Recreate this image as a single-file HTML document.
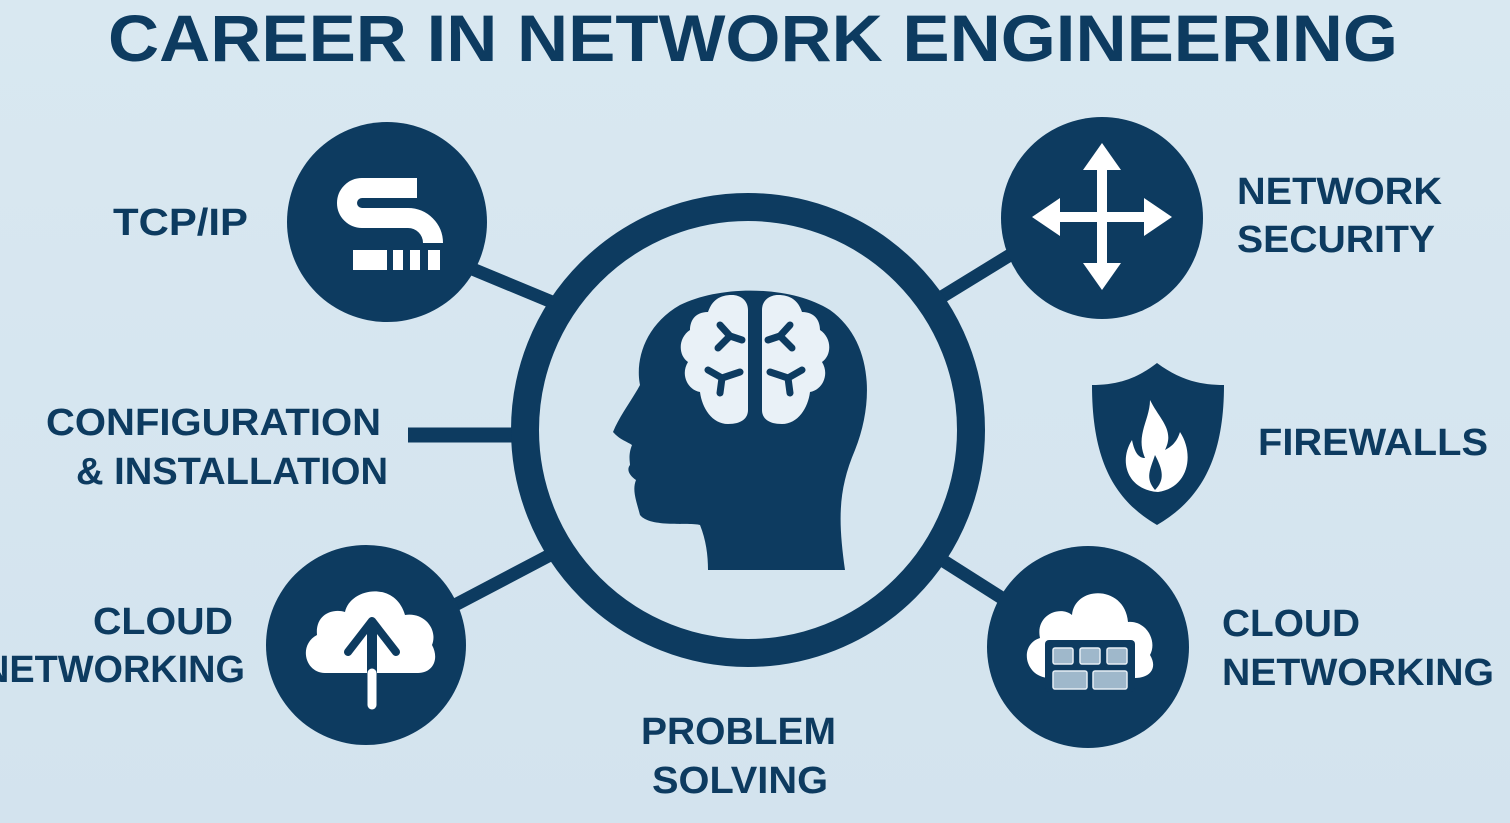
<!DOCTYPE html>
<html><head><meta charset="utf-8"><style>
html,body{margin:0;padding:0;background:#d7e6f0;}
svg{display:block;}
text{font-family:"Liberation Sans",sans-serif;font-weight:bold;fill:#0d3b60;}
</style></head><body>
<svg width="1510" height="823" viewBox="0 0 1510 823" xmlns="http://www.w3.org/2000/svg">
<defs><linearGradient id="bg" x1="0" y1="0" x2="0" y2="1"><stop offset="0" stop-color="#d9e8f1"/><stop offset="1" stop-color="#d3e3ee"/></linearGradient></defs>
<rect width="1510" height="823" fill="url(#bg)"/>
<text x="108" y="61" font-size="66" textLength="1290" lengthAdjust="spacingAndGlyphs">CAREER IN NETWORK ENGINEERING</text>
<g stroke="#0d3b60" stroke-width="13">
<line x1="470" y1="268" x2="552" y2="302"/>
<line x1="940" y1="298" x2="1015" y2="252"/>
<line x1="408" y1="435" x2="515" y2="435" stroke-width="15"/>
<line x1="455" y1="605" x2="552" y2="554"/>
<line x1="942" y1="560" x2="1005" y2="600"/>
</g>
<circle cx="748" cy="430" r="223" fill="#d5e5ef" stroke="#0d3b60" stroke-width="28"/>
<circle cx="387" cy="222" r="100" fill="#0d3b60"/>
<circle cx="1102" cy="218" r="101" fill="#0d3b60"/>
<circle cx="366" cy="645" r="100" fill="#0d3b60"/>
<circle cx="1088" cy="647" r="101" fill="#0d3b60"/>
<!-- TCP icon -->
<path d="M417 188 H362 A15 15 0 0 0 362 218 H408 A25 25 0 0 1 433 243" fill="none" stroke="#fff" stroke-width="20"/>
<rect x="353" y="250" width="34" height="20" fill="#fff"/>
<rect x="393" y="250" width="10" height="20" fill="#fff"/>
<rect x="410" y="250" width="10" height="20" fill="#fff"/>
<rect x="428" y="250" width="12" height="20" fill="#fff"/>
<!-- arrows -->
<g fill="#fff">
<rect x="1097" y="160" width="10" height="115"/>
<rect x="1047" y="212" width="110" height="10"/>
<polygon points="1102,143 1083,170 1121,170"/>
<polygon points="1102,290 1083,263 1121,263"/>
<polygon points="1032,217 1060,198 1060,236"/>
<polygon points="1172,217 1144,198 1144,236"/>
</g>
<!-- head -->
<path d="M708 570 H845 C838 520 838 490 855 450 C875 400 872 340 830 310 C790 285 720 285 680 305 C645 325 635 360 640 385 C632 400 620 415 613 432 C620 440 628 442 632 445 C628 455 630 462 630 465 C626 470 630 476 636 480 C632 490 636 500 640 515 C650 528 690 522 700 525 C706 540 708 555 708 570 Z" fill="#0d3b60"/>
<g fill="#e9f1f7">
<path d="M748 310 C748 300 740 295 732 295 C720 295 712 300 708 312 C694 312 690 322 690 330 C678 338 678 355 688 362 C680 375 688 390 700 392 C702 408 712 424 728 424 C742 424 748 418 748 410 Z"/>
<path d="M762 310 C762 300 770 295 778 295 C790 295 798 300 802 312 C816 312 820 322 820 330 C832 338 832 355 822 362 C830 375 822 390 810 392 C808 408 798 424 782 424 C768 424 762 418 762 410 Z"/>
</g>
<g stroke="#0d3b60" stroke-width="7" stroke-linecap="round" fill="none">
<path d="M718 348 L730 336 M730 336 L720 325 M730 336 L742 340"/>
<path d="M708 370 L722 378 M722 378 L740 372 M722 378 L720 393"/>
<path d="M792 348 L780 336 M780 336 L790 325 M780 336 L768 340"/>
<path d="M802 370 L788 378 M788 378 L770 372 M788 378 L790 393"/>
</g>
<!-- shield -->
<path d="M1157 363 C1180 380 1200 385 1224 385 C1224 460 1200 500 1157 525 C1114 500 1092 460 1092 385 C1115 385 1135 380 1157 363 Z" fill="#0d3b60"/>
<path d="M1150 400 C1160 420 1175 430 1165 450 C1175 445 1178 438 1180 432 C1195 455 1188 488 1158 492 C1128 490 1118 462 1132 440 C1135 455 1140 458 1145 458 C1135 435 1150 420 1150 400 Z" fill="#fff"/>
<path d="M1155 455 C1150 470 1145 478 1155 490 C1165 480 1163 470 1155 455Z" fill="#0d3b60"/>
<!-- cloud upload -->
<path d="M325 673 C305 673 298 645 317 635 C315 615 332 608 345 612 C350 588 395 580 405 615 C425 612 438 630 432 645 C440 660 432 673 418 673 Z" fill="#fff"/>
<path d="M348 652 L372 621 L396 652" fill="none" stroke="#0d3b60" stroke-width="8" stroke-linecap="round" stroke-linejoin="round"/>
<line x1="372" y1="625" x2="372" y2="673" stroke="#0d3b60" stroke-width="10"/>
<line x1="372" y1="673" x2="372" y2="705" stroke="#fff" stroke-width="9" stroke-linecap="round"/>
<!-- cloud server -->
<path d="M1050 678 C1025 678 1018 645 1040 638 C1035 615 1060 605 1072 615 C1075 585 1125 585 1128 622 C1145 620 1158 640 1150 655 C1158 668 1150 678 1135 678 Z" fill="#fff"/>
<rect x="1045" y="640" width="90" height="52" rx="4" fill="#0d3b60"/>
<g fill="#9fb8cb" stroke="#e6eef4" stroke-width="1.5">
<rect x="1053" y="648" width="20" height="16" rx="2"/>
<rect x="1080" y="648" width="20" height="16" rx="2"/>
<rect x="1107" y="648" width="20" height="16" rx="2"/>
<rect x="1053" y="671" width="34" height="18" rx="2"/>
<rect x="1093" y="671" width="34" height="18" rx="2"/>
</g>
<!-- labels -->
<g font-size="38">
<text x="113" y="235" textLength="135" lengthAdjust="spacingAndGlyphs">TCP/IP</text>
<text x="1237" y="204" textLength="205" lengthAdjust="spacingAndGlyphs">NETWORK</text>
<text x="1237" y="252" textLength="198" lengthAdjust="spacingAndGlyphs">SECURITY</text>
<text x="1258" y="455" textLength="230" lengthAdjust="spacingAndGlyphs">FIREWALLS</text>
<text x="46" y="435" textLength="335" lengthAdjust="spacingAndGlyphs">CONFIGURATION</text>
<text x="76" y="484" textLength="312" lengthAdjust="spacingAndGlyphs">&amp; INSTALLATION</text>
<text x="93" y="634" textLength="140" lengthAdjust="spacingAndGlyphs">CLOUD</text>
<text x="-18" y="682" textLength="263" lengthAdjust="spacingAndGlyphs">NETWORKING</text>
<text x="1222" y="636" textLength="138" lengthAdjust="spacingAndGlyphs">CLOUD</text>
<text x="1222" y="685" textLength="272" lengthAdjust="spacingAndGlyphs">NETWORKING</text>
<text x="641" y="744" textLength="195" lengthAdjust="spacingAndGlyphs">PROBLEM</text>
<text x="652" y="793" textLength="176" lengthAdjust="spacingAndGlyphs">SOLVING</text>
</g>
</svg>
</body></html>
